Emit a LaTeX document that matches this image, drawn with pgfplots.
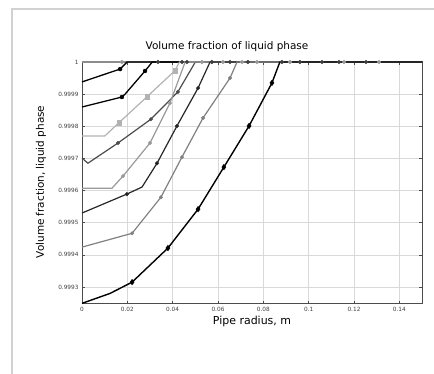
\documentclass[border=0pt]{standalone}
\usepackage{fontspec}
\setmainfont{DejaVu Sans}
\usepackage{pgfplots}
\pgfplotsset{compat=1.18}
\begin{document}
\begin{tikzpicture}
\useasboundingbox (0bp,0bp) rectangle (434bp,374bp);
\draw[black!18, line width=1.2bp] (12bp,-10bp) -- (12bp,365bp) -- (450bp,365bp);
\begin{axis}[at={(82bp,70bp)}, anchor=south west, width=340bp, height=242bp, scale only axis,
  xmin=0, xmax=0.15, ymin=-7.53, ymax=0,
  xtick={0,0.02,0.04,0.06,0.08,0.1,0.12,0.14},
  xticklabels={0,0.02,0.04,0.06,0.08,0.1,0.12,0.14},
  ytick={-7,-6,-5,-4,-3,-2,-1,0},
  yticklabels={0.9993,0.9994,0.9995,0.9996,0.9997,0.9998,0.9999,1},
  tick label style={font=\fontsize{5.8}{6}\selectfont, text=black!75},
  xtick pos=both, ytick pos=both, tick align=inside,
  major tick length=3bp, tick style={black!70, line width=0.6bp},
  grid=major, major grid style={black!15, line width=0.5bp},
  axis line style={black!70, line width=1bp},
  clip=false,
]
% saturated level y = 1 shared by all curves
\addplot[black!45, line width=2.6bp] coordinates {(0,0) (0.15,0)};
% C1
\addplot[black, line width=1.3bp] coordinates {(0,-0.62) (0.0168,-0.22) (0.0199,0) (0.15,0)};
\addplot[black, only marks, mark=*, mark size=2bp] coordinates {(0.0168,-0.22)};
% C2
\addplot[black, line width=1.3bp] coordinates {(0,-1.40) (0.0176,-1.09) (0.0190,-1.00) (0.0278,-0.28) (0.031,0) (0.15,0)};
\addplot[black, only marks, mark=*, mark size=2bp] coordinates {(0.0176,-1.09) (0.0278,-0.28)};
% C3
\addplot[black!30, line width=1.2bp] coordinates {(0,-2.30) (0.0101,-2.30) (0.0163,-1.89) (0.0287,-1.08) (0.041,-0.27) (0.043,0) (0.15,0)};
\addplot[black!30, only marks, mark=square*, mark size=2.2bp] coordinates {(0.0163,-1.89) (0.0287,-1.08) (0.041,-0.27)};
% C4
\addplot[black!70, line width=1.2bp] coordinates {(0,-2.99) (0.0026,-3.15) (0.0159,-2.52) (0.0304,-1.78) (0.0423,-0.93) (0.050,0) (0.15,0)};
\addplot[black!70, only marks, mark=*, mark size=1.8bp] coordinates {(0.0159,-2.52) (0.0304,-1.78) (0.0423,-0.93)};
% C5
\addplot[black!40, line width=1.2bp] coordinates {(0,-3.93) (0.0132,-3.93) (0.0181,-3.55) (0.030,-2.52) (0.0388,-1.28) (0.0455,0) (0.15,0)};
\addplot[black!40, only marks, mark=*, mark size=1.8bp] coordinates {(0.0181,-3.55) (0.030,-2.52) (0.0388,-1.28)};
% C6
\addplot[black!85, line width=1.2bp] coordinates {(0,-4.70) (0.0198,-4.11) (0.0265,-3.89) (0.0331,-3.15) (0.0419,-1.99) (0.0512,-0.81) (0.0565,0) (0.15,0)};
\addplot[black!85, only marks, mark=*, mark size=1.8bp] coordinates {(0.0198,-4.11) (0.0331,-3.15) (0.0419,-1.99) (0.0512,-0.81)};
% C7
\addplot[black!50, line width=1.2bp] coordinates {(0,-5.76) (0.0221,-5.33) (0.0348,-4.21) (0.0441,-2.96) (0.0534,-1.74) (0.0653,-0.50) (0.0684,0) (0.15,0)};
\addplot[black!50, only marks, mark=*, mark size=1.8bp] coordinates {(0.0221,-5.33) (0.0348,-4.21) (0.0441,-2.96) (0.0534,-1.74) (0.0653,-0.50)};
% C8
\addplot[black, line width=1.4bp] coordinates {(0,-7.51) (0.0124,-7.20) (0.0221,-6.85) (0.0379,-5.79) (0.0512,-4.58) (0.0626,-3.27) (0.0737,-1.99) (0.0838,-0.65) (0.0873,0) (0.15,0)};
\addplot[black, only marks, mark=diamond*, mark size=2.8bp] coordinates {(0.0221,-6.85) (0.0379,-5.79) (0.0512,-4.58) (0.0626,-3.27) (0.0737,-1.99) (0.0838,-0.65)};
% markers along the top
\addplot[black!75, only marks, mark=*, mark size=1.9bp] coordinates {(0.0335,0) (0.0441,0) (0.0463,0) (0.0573,0) (0.0653,0) (0.0732,0) (0.0882,0) (0.0961,0) (0.1059,0) (0.1134,0) (0.1253,0)};
\addplot[black!40, only marks, mark=*, mark size=1.9bp] coordinates {(0.0176,0) (0.0529,0) (0.0622,0) (0.0706,0) (0.0772,0) (0.0917,0) (0.1156,0) (0.1310,0)};
\end{axis}
\node[font=\fontsize{10.5}{12}\selectfont] at (227bp,327bp) {Volume fraction of liquid phase};
\node[font=\fontsize{11}{13}\selectfont] at (252bp,53bp) {Pipe radius, m};
\node[font=\fontsize{10.5}{12}\selectfont, rotate=90] at (41bp,192bp) {Volume fraction, liquid phase};
\end{tikzpicture}
\end{document}
